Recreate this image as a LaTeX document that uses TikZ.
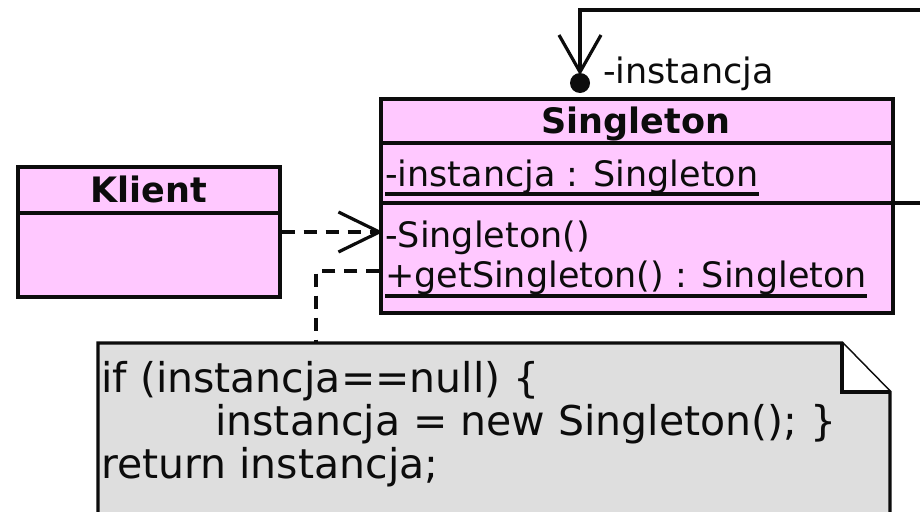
\documentclass[tikz,border=0pt]{standalone}
\usepackage{fontspec}
\setmainfont{DejaVu Sans}
\usetikzlibrary{calc}
\definecolor{classpink}{RGB}{255,200,255}
\definecolor{notegray}{RGB}{222,222,222}
\definecolor{ink}{RGB}{12,12,12}
\begin{document}
\begin{tikzpicture}[x=1pt,y=-1pt,
  box/.style={draw=ink, line width=3.2pt, fill=classpink, inner sep=0pt},
  ln/.style={draw=ink, line width=3.2pt},
  dsh/.style={ln, dash pattern=on 13pt off 9pt},
  txt/.style={inner sep=0pt, text=ink, font=\fontsize{35}{42}\selectfont},
  ttl/.style={inner sep=0pt, text=ink, font=\fontsize{35}{42}\selectfont\bfseries},
  notetxt/.style={inner sep=0pt, text=ink, font=\fontsize{41}{48}\selectfont},
]
\useasboundingbox (0,0) rectangle (920,511);
\fill[white] (0,0) rectangle (920,511);

% note
\coordinate (notetop) at (316,343);
\fill[notegray] (98,530) -- (98,343) -- (842,343) -- (890,392) -- (890,530) -- cycle;
\draw[ln, line join=miter] (98,530) -- (98,343) -- (842,343) -- (890,392) -- (890,530);
\fill[white] (842,343) -- (890,392) -- (842,392) -- cycle;
\draw[ln] (842,343) -- (842,392) -- (890,392);
\node[notetxt, anchor=base west] (n1) at (101,392) {if (instancja==null) \{};
\node[notetxt, anchor=base west] (n2) at (215,435) {instancja = new Singleton(); \}};
\node[notetxt, anchor=base west] (n3) at (101,478) {return instancja;};

% Klient
\node[box, minimum width=262pt, minimum height=130pt] (klient) at (149,232) {};
\draw[ln] (18,213) -- (280,213);
\node[ttl, anchor=base] (kname) at (149,202) {Klient};

% Singleton
\node[box, minimum width=512pt, minimum height=214pt] (singleton) at (637,206) {};
\draw[ln] (381,143) -- (893,143);
\draw[ln] (381,203) -- (893,203);
\node[ttl, anchor=base] (sname) at (636,133) {Singleton};
\node[txt, anchor=base west] (attr) at (385,186) {-instancja : Singleton};
\draw[ln] ([yshift=-8pt]attr.base west) -- ([yshift=-8pt]attr.base east);
\node[txt, anchor=base west] (op1) at (385,247) {-Singleton()};
\node[txt, anchor=base west] (op2) at (385,287) {+getSingleton() : Singleton};
\draw[ln] ([yshift=-9pt]op2.base west) -- ([yshift=-9pt]op2.base east);

% self association
\coordinate (selfR) at (922,203);
\coordinate (selfTR) at (922,10);
\coordinate (dot) at (580,83);
\coordinate (tip) at (580,72);
\draw[ln] (singleton.east |- selfR) -- (selfR);
\draw[ln] (selfTR) -- (selfTR -| dot) -- (tip);
\draw[ln] ($(tip)+(-21,-37)$) -- (tip) -- ($(tip)+(21,-37)$);
\fill[ink] (dot) circle (10pt);
\node[txt, anchor=base west] (role) at (603,83) {-instancja};

% dependency Klient -> Singleton
\coordinate (deptip) at (klient.east -| singleton.west);
\draw[dsh] (klient.east) -- (deptip);
\draw[ln] ($(deptip)+(-41,-20)$) -- (deptip) -- ($(deptip)+(-41,20)$);

% note anchor
\draw[dsh] (singleton.west |- 0,271) -- (316,271) -- (notetop);
\end{tikzpicture}
\end{document}
